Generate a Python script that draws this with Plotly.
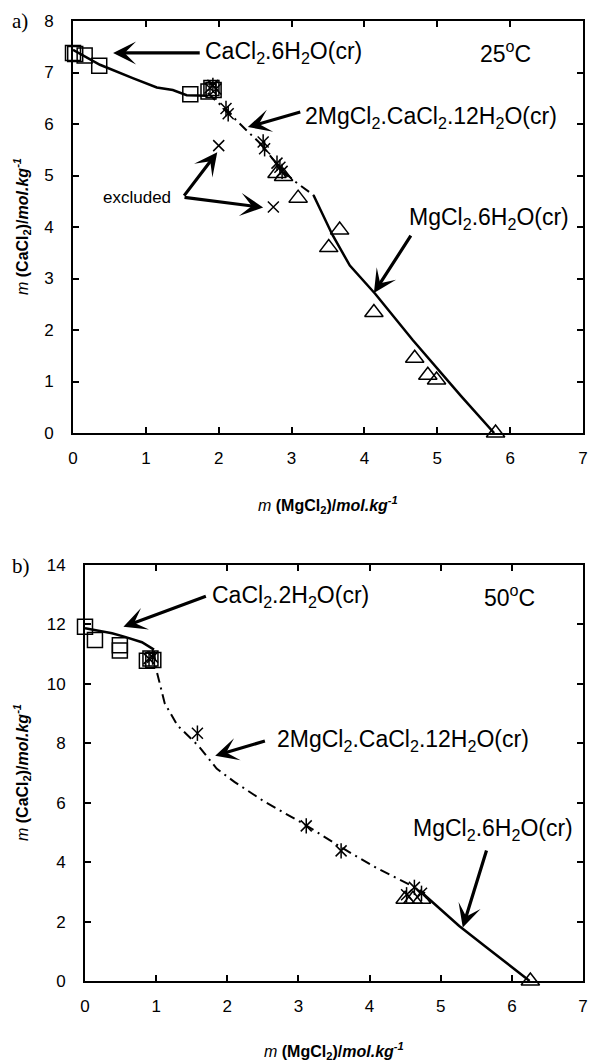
import plotly.graph_objects as go

# ---------------- Panel a (25 °C) ----------------
a_sq_x = [0.0, 0.03, 0.16, 0.36, 1.61, 1.86, 1.90, 1.93]
a_sq_y = [7.38, 7.36, 7.33, 7.13, 6.58, 6.63, 6.70, 6.66]
a_ast_x = [1.88, 1.92, 1.96, 2.10, 2.13, 2.61, 2.63, 2.80, 2.84, 2.87]
a_ast_y = [6.70, 6.75, 6.68, 6.30, 6.20, 5.65, 5.52, 5.24, 5.16, 5.08]
a_ex_x = [2.00, 2.75]
a_ex_y = [5.58, 4.39]
a_tri_x = [2.80, 2.89, 3.09, 3.51, 3.66, 4.13, 4.69, 4.87, 4.99, 5.80]
a_tri_y = [5.04, 4.98, 4.56, 3.60, 3.94, 2.34, 1.45, 1.12, 1.03, 0.0]
a_ca_line_x = [0.0, 0.37, 0.82, 1.15, 1.37, 1.56, 1.85]
a_ca_line_y = [7.44, 7.15, 6.89, 6.71, 6.66, 6.56, 6.55]
a_dbl_line_x = [1.85, 2.10, 2.38, 2.60, 2.85, 3.05, 3.30]
a_dbl_line_y = [6.60, 6.27, 5.88, 5.58, 5.12, 4.88, 4.62]
a_mg_line_x = [3.30, 3.56, 3.80, 4.15, 4.66, 5.33, 5.78]
a_mg_line_y = [4.62, 3.85, 3.25, 2.70, 1.81, 0.71, 0.0]

# ---------------- Panel b (50 °C) ----------------
b_sq_x = [0.0, 0.14, 0.49, 0.49, 0.87, 0.92, 0.96]
b_sq_y = [11.92, 11.48, 11.30, 11.12, 10.78, 10.85, 10.80]
b_ast_x = [0.90, 0.95, 1.58, 3.11, 3.60, 4.63, 4.52, 4.73]
b_ast_y = [10.85, 10.90, 8.34, 5.22, 4.38, 3.15, 2.90, 2.95]
b_tri_x = [4.50, 4.61, 4.73, 6.26]
b_tri_y = [2.75, 2.75, 2.75, 0.0]
b_ca_line_x = [0.0, 0.38, 0.55, 0.80, 0.97]
b_ca_line_y = [11.87, 11.70, 11.59, 11.40, 11.15]
b_dbl_line_x = [0.97, 1.00, 1.12, 1.30, 1.60, 1.85, 2.10, 2.50, 3.10, 3.60, 4.10, 4.60, 4.78]
b_dbl_line_y = [11.10, 10.50, 9.35, 8.60, 7.90, 7.15, 6.70, 6.07, 5.25, 4.50, 3.80, 3.20, 2.95]
b_mg_line_x = [4.76, 5.02, 5.26, 5.65, 6.00, 6.25]
b_mg_line_y = [2.92, 2.36, 1.85, 1.12, 0.45, 0.0]

x_ticks = [0, 1, 2, 3, 4, 5, 6, 7]
a_y_ticks = [0, 1, 2, 3, 4, 5, 6, 7, 8]
b_y_ticks = [0, 2, 4, 6, 8, 10, 12, 14]

SANS = "Liberation Sans, Arial, sans-serif"
SERIF = "Liberation Serif, Times New Roman, serif"

W, H = 589, 1064


def px(sx):
    return sx / W


def py(sy):
    return 1 - sy / H


fig = go.Figure()


def curve(x, y, xa, ya, dash="solid", width=2.5):
    fig.add_trace(go.Scatter(x=x, y=y, mode="lines", xaxis=xa, yaxis=ya,
                             line=dict(color="black", width=width, dash=dash),
                             showlegend=False, hoverinfo="skip", cliponaxis=False))


def markers(x, y, xa, ya, symbol, size, width=1.5):
    fig.add_trace(go.Scatter(x=x, y=y, mode="markers", xaxis=xa, yaxis=ya,
                             marker=dict(symbol=symbol, size=size, color="black",
                                         line=dict(color="black", width=width)),
                             showlegend=False, hoverinfo="skip", cliponaxis=False))


DASHDOT = "10px,5px,2px,5px"

# panel a
curve(a_ca_line_x, a_ca_line_y, "x", "y")
curve(a_dbl_line_x, a_dbl_line_y, "x", "y", dash=DASHDOT, width=2)
curve(a_mg_line_x, a_mg_line_y, "x", "y")
markers(a_sq_x, a_sq_y, "x", "y", "square-open", 15)
markers(a_tri_x, a_tri_y, "x", "y", "triangle-up-open", 16)
markers(a_ast_x, a_ast_y, "x", "y", "x-thin-open", 11)
markers(a_ast_x, a_ast_y, "x", "y", "line-ns-open", 11)
markers(a_ex_x, a_ex_y, "x", "y", "x-thin-open", 11)

# panel b
curve(b_ca_line_x, b_ca_line_y, "x2", "y2")
curve(b_dbl_line_x, b_dbl_line_y, "x2", "y2", dash=DASHDOT, width=2)
curve(b_mg_line_x, b_mg_line_y, "x2", "y2")
markers(b_sq_x, b_sq_y, "x2", "y2", "square-open", 15)
markers(b_tri_x, b_tri_y, "x2", "y2", "triangle-up-open", 16)
markers(b_ast_x, b_ast_y, "x2", "y2", "x-thin-open", 11)
markers(b_ast_x, b_ast_y, "x2", "y2", "line-ns-open", 11)

axis_common = dict(showline=True, linecolor="black", linewidth=2, mirror="ticks",
                   ticks="inside", ticklen=6, tickwidth=2, tickcolor="black",
                   showgrid=False, zeroline=False, automargin=False,
                   ticklabeloverflow="allow",
                   tickfont=dict(family=SANS, size=17, color="black"))

fig.update_layout(
    width=W, height=H,
    margin=dict(l=0, r=0, t=0, b=0, autoexpand=False),
    paper_bgcolor="white", plot_bgcolor="white",
    xaxis=dict(domain=[px(73), px(583)], anchor="y", range=[0, 7],
               tickvals=x_ticks, ticklabelstandoff=9, **axis_common),
    yaxis=dict(domain=[py(433), py(21)], anchor="x", range=[0, 8],
               tickvals=a_y_ticks, ticklabelstandoff=14, **axis_common),
    xaxis2=dict(domain=[px(85), px(583)], anchor="y2", range=[0, 7],
                tickvals=x_ticks, ticklabelstandoff=9, **axis_common),
    yaxis2=dict(domain=[py(981), py(565)], anchor="x2", range=[0, 14],
                tickvals=b_y_ticks, ticklabelstandoff=14, **axis_common),
)

ann = []
TF = dict(family=SANS, size=23, color="black")


def text(x, y, t, xr, yr, xanchor="left", font=TF):
    ann.append(dict(x=x, y=y, xref=xr, yref=yr, text=t, showarrow=False,
                    xanchor=xanchor, yanchor="middle", font=font))


def arrow(hx, hy, tx, ty, xr, yr):
    ann.append(dict(x=hx, y=hy, ax=tx, ay=ty, xref=xr, yref=yr, axref=xr, ayref=yr,
                    text="", showarrow=True, arrowhead=3, arrowsize=1.2,
                    arrowwidth=3.2, arrowcolor="black", standoff=0))


# panel a texts
text(1.78, 7.38, "CaCl<sub>2</sub>.6H<sub>2</sub>O(cr)", "x", "y")
arrow(0.55, 7.38, 1.76, 7.38, "x", "y")
text(5.93, 7.40, "25<sup>o</sup>C", "x", "y", xanchor="center")
text(3.16, 6.12, "2MgCl<sub>2</sub>.CaCl<sub>2</sub>.12H<sub>2</sub>O(cr)", "x", "y")
arrow(2.40, 5.94, 3.14, 6.24, "x", "y")
text(6.84, 4.17, "MgCl<sub>2</sub>.6H<sub>2</sub>O(cr)", "x", "y", xanchor="right")
arrow(4.13, 2.72, 4.65, 3.86, "x", "y")
text(1.37, 4.57, "excluded", "x", "y", xanchor="right",
     font=dict(family=SANS, size=17, color="black"))
arrow(1.98, 5.45, 1.51, 4.58, "x", "y")
arrow(2.61, 4.38, 1.51, 4.58, "x", "y")

# panel b texts
text(1.76, 12.95, "CaCl<sub>2</sub>.2H<sub>2</sub>O(cr)", "x2", "y2")
arrow(0.54, 11.92, 1.72, 12.97, "x2", "y2")
text(5.96, 12.95, "50<sup>o</sup>C", "x2", "y2", xanchor="center")
text(2.67, 8.09, "2MgCl<sub>2</sub>.CaCl<sub>2</sub>.12H<sub>2</sub>O(cr)", "x2", "y2")
arrow(1.83, 7.58, 2.55, 8.09, "x2", "y2")
text(6.89, 5.11, "MgCl<sub>2</sub>.6H<sub>2</sub>O(cr)", "x2", "y2", xanchor="right")
arrow(5.31, 1.80, 5.65, 4.44, "x2", "y2")

# axis titles and panel labels
AT = dict(family=SANS, size=16, color="black")
xt = "<i>m</i> <b>(MgCl<sub>2</sub>)/<i>mol.kg<sup>-1</sup></i></b>"
yt = "<i>m</i> <b>(CaCl<sub>2</sub>)/<i>mol.kg<sup>-1</sup></i></b>"
for (xc, yc, t, ang) in [
    (328, 505, xt, 0),
    (334, 1051, xt, 0),
    (22, 227, yt, -90),
    (22, 773, yt, -90),
]:
    ann.append(dict(x=px(xc), y=py(yc), xref="paper", yref="paper", text=t,
                    showarrow=False, xanchor="center", yanchor="middle",
                    textangle=ang, font=AT))

for (lab, yc) in [("a)", 21), ("b)", 566)]:
    ann.append(dict(x=px(10), y=py(yc), xref="paper", yref="paper", text=lab,
                    showarrow=False, xanchor="left", yanchor="middle",
                    font=dict(family=SERIF, size=21, color="black")))

fig.update_layout(annotations=ann)
fig.write_html("out.html",
               config={"displayModeBar": False},
               post_script="document.body.style.margin='0';"
                           "document.body.style.overflow='hidden';")
